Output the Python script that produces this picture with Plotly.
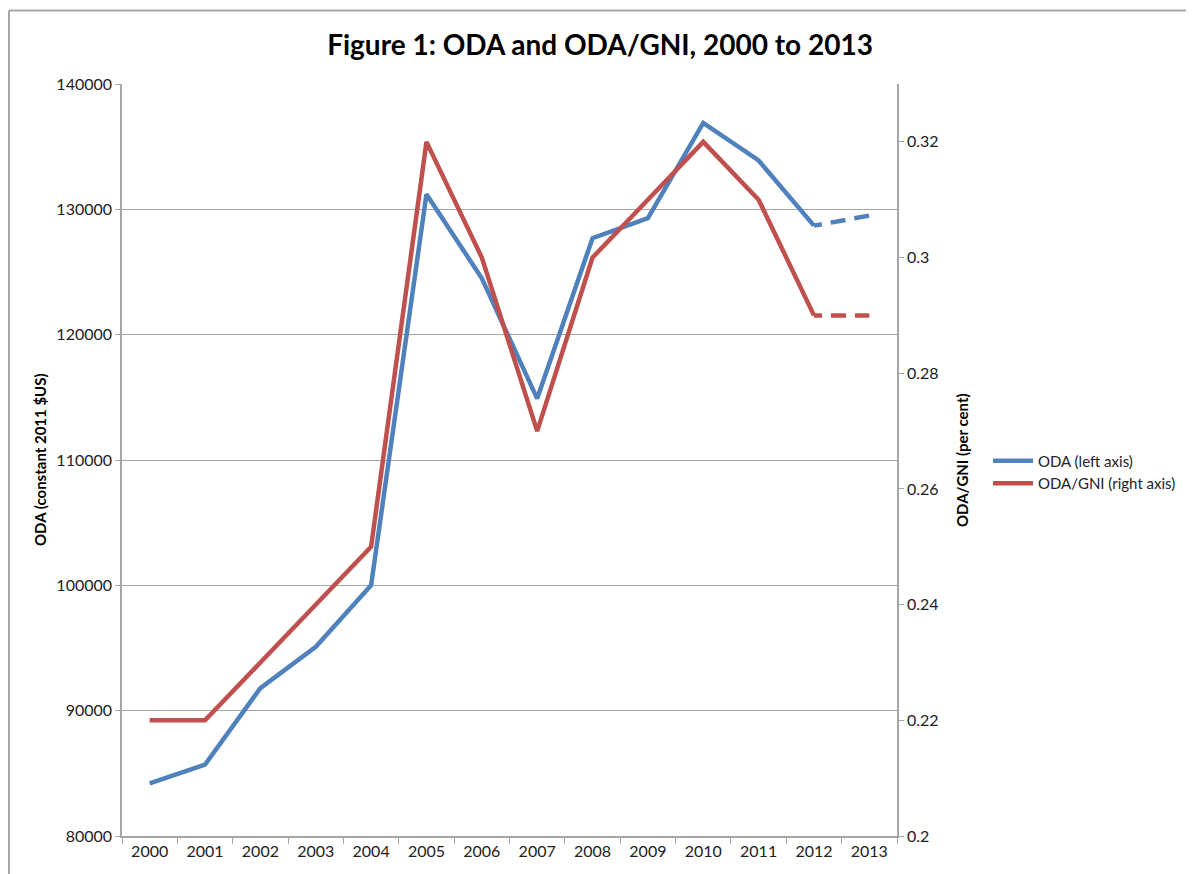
import plotly.graph_objects as go

years = ["2000", "2001", "2002", "2003", "2004", "2005", "2006", "2007",
         "2008", "2009", "2010", "2011", "2012", "2013"]
oda = [84200, 85700, 91800, 95100, 100000, 131200, 124500, 114900,
       127700, 129300, 136900, 133900, 128700, 129500]
oda_gni = [0.22, 0.22, 0.23, 0.24, 0.25, 0.32, 0.30, 0.27,
           0.30, 0.31, 0.32, 0.31, 0.29, 0.29]

left_ticks = [80000, 90000, 100000, 110000, 120000, 130000, 140000]
right_ticks = [0.2, 0.22, 0.24, 0.26, 0.28, 0.3, 0.32]
right_labels = ["0.2", "0.22", "0.24", "0.26", "0.28", "0.3", "0.32"]

BLUE = "#4F81BD"
RED = "#C0504D"
FONT = "Lato, 'Open Sans', sans-serif"
DASH = "8px,9px,15px,9px,15px"

OFF = 8  # page body margin
W, H = 1194 - OFF, 874 - OFF
L, R, T, B = 122 - OFF, 897 - OFF, 84 - OFF, 836 - OFF
pw, ph = R - L, B - T

fig = go.Figure()
fig.add_trace(go.Scatter(x=years[:-1], y=oda[:-1], mode="lines", name="ODA (left axis)",
                         line=dict(color=BLUE, width=4.5), yaxis="y"))
fig.add_trace(go.Scatter(x=years[-2:], y=oda[-2:], mode="lines", showlegend=False,
                         line=dict(color=BLUE, width=4.5, dash=DASH), yaxis="y"))
fig.add_trace(go.Scatter(x=years[:-1], y=oda_gni[:-1], mode="lines", name="ODA/GNI (right axis)",
                         line=dict(color=RED, width=4.5), yaxis="y2"))
fig.add_trace(go.Scatter(x=years[-2:], y=oda_gni[-2:], mode="lines", showlegend=False,
                         line=dict(color=RED, width=4.5, dash=DASH), yaxis="y2"))

def px_x(x):
    return (x - OFF - L) / pw

def px_y(y):
    return (B - (y - OFF)) / ph

fig.update_layout(
    width=W, height=H,
    margin=dict(l=L, r=W - R, t=T, b=H - B, pad=0),
    paper_bgcolor="white", plot_bgcolor="white",
    font=dict(family=FONT, size=16, color="#222"),
    title=dict(text="<b>Figure 1: ODA and ODA/GNI, 2000 to 2013</b>",
               x=(600 - OFF) / W, xanchor="center", y=1 - (45 - OFF) / H, yanchor="middle",
               font=dict(size=28, color="black", family=FONT)),
    xaxis=dict(type="category", categoryorder="array", categoryarray=years,
               range=[-0.5, 13.5], showline=True, linecolor="#A6A6A6", linewidth=1.5,
               ticks="outside", tickson="boundaries", ticklen=6, tickcolor="#A6A6A6",
               showgrid=False, tickfont=dict(size=16, color="#222"), fixedrange=True),
    yaxis=dict(range=[80000, 140000], tickvals=left_ticks, ticktext=[str(v) for v in left_ticks],
               showline=True, linecolor="#A6A6A6", linewidth=1.5,
               ticks="outside", ticklen=5, tickcolor="#A6A6A6",
               showgrid=True, gridcolor="#A6A6A6", gridwidth=1, zeroline=False,
               tickfont=dict(size=16, color="#222")),
    yaxis2=dict(range=[0.2, 0.33], tickvals=right_ticks, ticktext=right_labels,
                overlaying="y", side="right",
                showline=True, linecolor="#A6A6A6", linewidth=1.5,
                ticks="outside", ticklen=5, tickcolor="#A6A6A6",
                showgrid=False, zeroline=False, tickfont=dict(size=16, color="#222")),
    legend=dict(x=px_x(988), y=px_y(472), xanchor="left", yanchor="middle",
                font=dict(size=15, color="#222"), bgcolor="rgba(0,0,0,0)",
                itemwidth=40, tracegroupgap=6),
    showlegend=True,
)

fig.add_annotation(text="<b>ODA (constant 2011 $US)</b>", textangle=-90,
                   xref="paper", yref="paper", x=px_x(40), y=px_y(460),
                   xanchor="center", yanchor="middle", showarrow=False,
                   font=dict(size=15, color="black", family=FONT))
fig.add_annotation(text="<b>ODA/GNI (per cent)</b>", textangle=-90,
                   xref="paper", yref="paper", x=px_x(962), y=px_y(460),
                   xanchor="center", yanchor="middle", showarrow=False,
                   font=dict(size=15, color="black", family=FONT))

# chart border (top and left)
fig.add_shape(type="line", xref="paper", yref="paper",
              x0=px_x(9), x1=px_x(1194), y0=px_y(10.5), y1=px_y(10.5),
              line=dict(color="#A6A6A6", width=2))
fig.add_shape(type="line", xref="paper", yref="paper",
              x0=px_x(9), x1=px_x(9), y0=px_y(10.5), y1=px_y(874),
              line=dict(color="#A6A6A6", width=2))

fig.write_html("out.html")
